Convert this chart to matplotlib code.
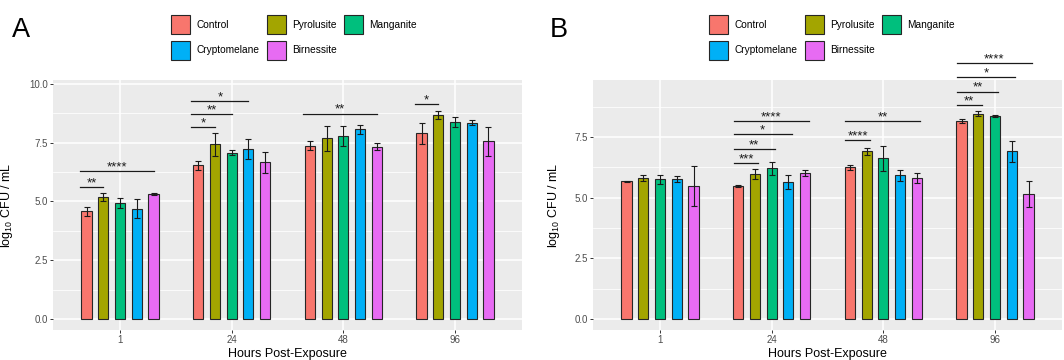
import matplotlib
matplotlib.use('Agg')
import matplotlib.pyplot as plt
from matplotlib.patches import Patch
from matplotlib.ticker import MultipleLocator
import numpy as np

plt.rcParams['font.family'] = ['Liberation Sans', 'DejaVu Sans']
plt.rcParams['mathtext.fontset'] = 'custom'
plt.rcParams['mathtext.rm'] = 'Liberation Sans'
plt.rcParams['mathtext.it'] = 'Liberation Sans:italic'
plt.rcParams['mathtext.bf'] = 'Liberation Sans:bold'

# ---------------- data ----------------
hours = ['1', '24', '48', '96']
minerals = ['Control', 'Pyrolusite', 'Manganite', 'Cryptomelane', 'Birnessite']
colors = ['#F8766D', '#A3A500', '#00BF7D', '#00B0F6', '#E76BF3']

# Panel A  (rows: mineral, columns: hour)
a_control      = [4.58, 6.54, 7.38, 7.90]
a_pyrolusite   = [5.18, 7.43, 7.69, 8.70]
a_manganite    = [4.92, 7.08, 7.79, 8.38]
a_cryptomelane = [4.70, 7.23, 8.07, 8.35]
a_birnessite   = [5.33, 6.67, 7.33, 7.56]

a_control_err      = [0.20, 0.20, 0.20, 0.46]
a_pyrolusite_err   = [0.18, 0.50, 0.53, 0.17]
a_manganite_err    = [0.21, 0.12, 0.44, 0.23]
a_cryptomelane_err = [0.42, 0.44, 0.18, 0.11]
a_birnessite_err   = [0.05, 0.44, 0.14, 0.62]

# Panel B
b_control      = [5.67, 5.48, 6.25, 8.16]
b_pyrolusite   = [5.80, 5.98, 6.91, 8.46]
b_manganite    = [5.76, 6.21, 6.62, 8.37]
b_cryptomelane = [5.78, 5.65, 5.92, 6.92]
b_birnessite   = [5.47, 6.02, 5.81, 5.15]

b_control_err      = [0.03, 0.03, 0.10, 0.08]
b_pyrolusite_err   = [0.12, 0.19, 0.14, 0.10]
b_manganite_err    = [0.19, 0.27, 0.51, 0.03]
b_cryptomelane_err = [0.12, 0.28, 0.24, 0.43]
b_birnessite_err   = [0.82, 0.11, 0.20, 0.53]

# significance brackets: (hour index, compared mineral index, y, label)
a_brackets = [(0, 1, 5.63, '**'), (0, 4, 6.31, '****'),
              (1, 1, 8.17, '*'), (1, 2, 8.73, '**'), (1, 3, 9.28, '*'),
              (2, 4, 8.74, '**'),
              (3, 1, 9.13, '*')]
b_brackets = [(1, 1, 6.43, '***'), (1, 2, 7.00, '**'), (1, 3, 7.61, '*'), (1, 4, 8.16, '****'),
              (2, 1, 7.38, '****'), (2, 4, 8.16, '**'),
              (3, 1, 8.80, '**'), (3, 2, 9.37, '**'), (3, 3, 9.98, '*'), (3, 4, 10.54, '****')]

panels = {
    'A': dict(vals=[a_control, a_pyrolusite, a_manganite, a_cryptomelane, a_birnessite],
              errs=[a_control_err, a_pyrolusite_err, a_manganite_err, a_cryptomelane_err, a_birnessite_err],
              brackets=a_brackets, ylim=(-0.468, 10.17), yticks=[0, 2.5, 5.0, 7.5, 10.0],
              rect=[53, 30, 469, 250], start_off=-0.06, end_off=0.0,
              ylab_x=-0.081, legend_cx=294, label_x=12),
    'B': dict(vals=[b_control, b_pyrolusite, b_manganite, b_cryptomelane, b_birnessite],
              errs=[b_control_err, b_pyrolusite_err, b_manganite_err, b_cryptomelane_err, b_birnessite_err],
              brackets=b_brackets, ylim=(-0.453, 9.85), yticks=[0, 2.5, 5.0, 7.5],
              rect=[593, 30, 469, 250], start_off=-0.04, end_off=0.03,
              ylab_x=-0.067, legend_cx=832, label_x=550),
}

W, H = 1064, 360
fig = plt.figure(figsize=(W / 100, H / 100), dpi=100)

offsets = (np.arange(len(minerals)) - 2) * 0.15
bar_w = 0.09
x = np.arange(len(hours))

for name, p in panels.items():
    l, b, w, h = p['rect']
    ax = fig.add_axes([l / W, b / H, w / W, h / H])
    ax.set_facecolor('#EBEBEB')
    for s in ax.spines.values():
        s.set_visible(False)
    ax.set_axisbelow(True)
    ax.set_xlim(-0.6, 3.6)
    ax.set_ylim(*p['ylim'])
    ax.set_xticks(x)
    ax.set_xticklabels(hours)
    ax.set_yticks(p['yticks'])
    ax.set_yticklabels([f'{t:.1f}' for t in p['yticks']])
    ax.yaxis.set_minor_locator(MultipleLocator(1.25))
    ax.grid(which='major', color='white', linewidth=1.1)
    ax.grid(which='minor', axis='y', color='white', linewidth=0.55)
    ax.tick_params(which='major', length=2.3, width=0.7, color='#333333',
                   labelsize=7, labelcolor='#4D4D4D', pad=1.3)
    ax.tick_params(which='minor', length=0)

    handles = []
    for i, m in enumerate(minerals):
        ax.bar(x + offsets[i], p['vals'][i], width=bar_w, color=colors[i],
               edgecolor='#262626', linewidth=0.8, zorder=2)
        ax.errorbar(x + offsets[i], p['vals'][i], yerr=p['errs'][i], fmt='none',
                    ecolor='#1a1a1a', elinewidth=0.8, capsize=2.4, capthick=0.8, zorder=3)
        handles.append(Patch(facecolor=colors[i], edgecolor='#262626', linewidth=0.8, label=m))

    for (g, j, yv, lab) in p['brackets']:
        x0 = g + offsets[0] + p['start_off']
        x1 = g + offsets[j] + p['end_off']
        ax.plot([x0, x1], [yv, yv], color='#1a1a1a', linewidth=0.9, clip_on=False, zorder=4)
        ax.text((x0 + x1) / 2, yv + 0.03, lab, ha='center', va='baseline',
                fontsize=9.5, color='#1a1a1a', clip_on=False, zorder=4)

    ax.set_xlabel('Hours Post-Exposure', fontsize=9, color='black')
    ax.xaxis.label.set_va('baseline')
    ax.xaxis.set_label_coords(0.5, -0.108)
    ax.set_ylabel('log$_{10}$ CFU / mL', fontsize=9, color='black')
    ax.yaxis.set_label_coords(p['ylab_x'], 0.5)

    order = [0, 3, 1, 4, 2]
    fig.legend([handles[k] for k in order], [minerals[k] for k in order],
               ncol=3, loc='center', bbox_to_anchor=(p['legend_cx'] / W, 1 - 37.5 / H),
               frameon=False, fontsize=7.3, handlelength=1.88, handleheight=2.52,
               handletextpad=0.62, columnspacing=0.68, labelspacing=0.62,
               borderpad=0, borderaxespad=0)

    fig.text(p['label_x'] / W, 1 - 36.7 / H, name, fontsize=19.5, ha='left', va='baseline')

fig.savefig('out.png', dpi=100)
